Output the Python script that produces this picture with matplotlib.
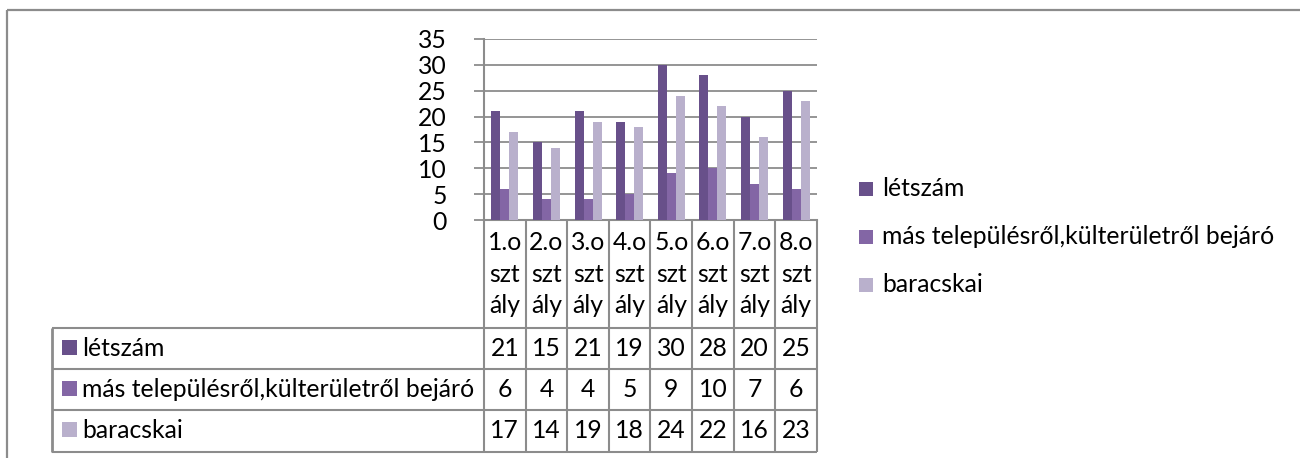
import textwrap
import matplotlib
matplotlib.use("Agg")
import matplotlib.pyplot as plt
from matplotlib.patches import Rectangle

# ---------------- data ----------------
categories = ["1.osztály", "2.osztály", "3.osztály", "4.osztály",
              "5.osztály", "6.osztály", "7.osztály", "8.osztály"]
series_names = ["létszám", "más településről,külterületről bejáró", "baracskai"]
letszam = [21, 15, 21, 19, 30, 28, 20, 25]
mas_telepulesrol = [6, 4, 4, 5, 9, 10, 7, 6]
baracskai = [17, 14, 19, 18, 24, 22, 16, 23]
y_ticks = [0, 5, 10, 15, 20, 25, 30, 35]

series_values = [letszam, mas_telepulesrol, baracskai]
colors = ["#68508A", "#8366A5", "#B9B0CC"]
GRID = "#8C8C8C"

FONT = ["Lato", "DejaVu Sans"]
plt.rcParams["font.family"] = FONT

W, H = 1300, 458
fig = plt.figure(figsize=(W / 100, H / 100), dpi=100)

# overlay axes in pixel coordinates (y downward)
ov = fig.add_axes([0, 0, 1, 1], zorder=0)
ov.set_xlim(0, W)
ov.set_ylim(H, 0)
ov.axis("off")

# fit font size so the long label is ~393 px wide
renderer = fig.canvas.get_renderer()
t = ov.text(0, 0, series_names[1], fontsize=16)
w = t.get_window_extent(renderer).width
t.remove()
FS = 16 * 393 / w

# ---------------- bar axes ----------------
px_left, px_right, px_top, px_bottom = 484, 817, 39, 220
ax = fig.add_axes([px_left / W, (H - px_bottom) / H,
                   (px_right - px_left) / W, (px_bottom - px_top) / H], zorder=2)
ax.set_facecolor("none")
n = len(categories)
group = 0.65
bw = group / 3
for k, (vals, col) in enumerate(zip(series_values, colors)):
    xs = [i + (k - 1) * bw for i in range(n)]
    ax.bar(xs, vals, width=bw, color=col, edgecolor="none", zorder=3)

ax.set_xlim(-0.5, n - 0.5)
ax.set_ylim(0, 35)
ax.set_yticks(y_ticks)
ax.set_yticklabels([str(v) for v in y_ticks], fontsize=FS)
ax.set_xticks([])
ax.yaxis.grid(True, color=GRID, linewidth=1.3, zorder=1)
ax.set_axisbelow(True)
ax.tick_params(axis="y", direction="out", length=7, width=1.3, color=GRID, pad=20)
for s in ["top", "right"]:
    ax.spines[s].set_visible(False)
for s in ["left", "bottom"]:
    ax.spines[s].set_color(GRID)
    ax.spines[s].set_linewidth(1.5)

# column edges from the bar axes' data transform
col_edges = []
for i in range(n + 1):
    x_disp = ax.transData.transform((i - 0.5, 0))[0]
    col_edges.append(x_disp)
col_centers = [(col_edges[i] + col_edges[i + 1]) / 2 for i in range(n)]

# ---------------- data table ----------------
LW = 1.5
tbl_left = 52
row_lines = [328, 369, 410, 452]
header_top = px_bottom
for x in col_edges:
    ov.plot([x, x], [header_top, row_lines[-1]], color=GRID, lw=LW, solid_capstyle="butt")
ov.plot([tbl_left, tbl_left], [row_lines[0], row_lines[-1]], color=GRID, lw=LW + 0.5,
        solid_capstyle="butt")
for y in row_lines:
    ov.plot([tbl_left, col_edges[-1]], [y, y], color=GRID, lw=LW, solid_capstyle="butt")

# category labels wrapped into 3-character lines
header_baselines = [250, 282, 313]
for cx, cat in zip(col_centers, categories):
    parts = textwrap.wrap(cat, 3)
    for yb, p in zip(header_baselines, parts):
        ov.text(cx, yb, p, fontsize=FS, ha="center", va="baseline", color="black")

# rows
for r, (name, vals, col) in enumerate(zip(series_names, series_values, colors)):
    yc = (row_lines[r] + row_lines[r + 1]) / 2
    ov.add_patch(Rectangle((62, yc - 9), 15, 15, color=col, lw=0))
    ov.text(82, yc, name, fontsize=FS, ha="left", va="center", color="black")
    for cx, v in zip(col_centers, vals):
        ov.text(cx, yc, str(v), fontsize=FS, ha="center", va="center", color="black")

# ---------------- legend ----------------
leg_y = [189, 237, 285]
for yc, name, col in zip(leg_y, series_names, colors):
    ov.add_patch(Rectangle((859, yc - 7), 14, 14, color=col, lw=0))
    ov.text(882, yc, name, fontsize=FS, ha="left", va="center", color="black")

# ---------------- outer frame ----------------
ov.plot([6.5, W], [9.5, 9.5], color=GRID, lw=1.6, solid_capstyle="butt")
ov.plot([6.5, 6.5], [9.5, H], color=GRID, lw=1.6, solid_capstyle="butt")

fig.savefig("out.png", dpi=100)
